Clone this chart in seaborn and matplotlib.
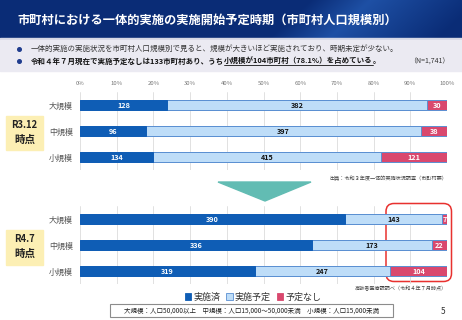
import numpy as np
import pandas as pd
import matplotlib
matplotlib.use("Agg")
import matplotlib.pyplot as plt
import seaborn as sns
from matplotlib.patches import Rectangle, FancyBboxPatch, Polygon, Patch

# ---------------- data ----------------
sizes = ["大規模", "中規模", "小規模"]
r3_done = [128, 96, 134]
r3_plan = [382, 397, 415]
r3_none = [30, 38, 121]
r4_done = [390, 336, 319]
r4_plan = [143, 173, 247]
r4_none = [7, 22, 104]
pct_ticks = ["0%", "10%", "20%", "30%", "40%", "50%", "60%", "70%", "80%", "90%", "100%"]
series_names = ["実施済", "実施予定", "予定なし"]

C_DONE = "#0F5DB5"
C_PLAN = "#BEDDF8"
C_NONE = "#D9486E"
C_EDGE = "#5A8FD2"

sns.set_theme(style="white")
FONT = ["Noto Sans CJK JP", "DejaVu Sans"]
plt.rcParams["font.family"] = FONT

fig = plt.figure(figsize=(4.62, 3.20), dpi=100)
W, H = 462, 320

# background axes in pixel coords
bg = fig.add_axes([0, 0, 1, 1])
bg.set_xlim(0, W)
bg.set_ylim(H, 0)
bg.axis("off")

# header gradient
hh = 38
xx, yy = np.meshgrid(np.arange(W), np.arange(hh))
base = np.array([10, 44, 118]) / 255.0
light = np.array([30, 80, 165]) / 255.0
d = (xx + 1.1 * yy) - 370
t = np.clip(1 - np.abs(d) / 60.0, 0, 1)
t = np.where(d > 0, np.clip(1 - d / 110.0, 0, 1), t)
img = base[None, None, :] * (1 - t[..., None]) + light[None, None, :] * t[..., None]
bg.imshow(img, extent=[0, W, hh, 0], aspect="auto", zorder=0)
bg.add_patch(Rectangle((0, hh), W, 1.5, color="#D5D8E6", zorder=1))
bg.add_patch(Rectangle((0, hh + 1.5), W, 31, color="#EBEAF2", zorder=1))

bg.text(17, 20, "市町村における一体的実施の実施開始予定時期（市町村人口規模別）",
        color="white", fontsize=8.8, fontweight="bold", va="center", ha="left", zorder=2)

# bullets
fs_b = 5.4
bg.plot([19, 19], [49, 61], ls="none", marker="o", ms=2.6, color="#1F3C8E", zorder=2)
bg.text(31, 49, "一体的実施の実施状況を市町村人口規模別で見ると、規模が大きいほど実施されており、時期未定が少ない。",
        fontsize=fs_b, color="#333333", va="center", ha="left", zorder=2)

t1 = bg.text(31, 61, "令和４年７月現在で実施予定なしは133市町村あり、うち",
             fontsize=fs_b, color="#111111", fontweight="bold", va="center", ha="left", zorder=2)
fig.canvas.draw()
r = fig.canvas.get_renderer()
inv = bg.transData.inverted()
e1 = t1.get_window_extent(r)
x1 = inv.transform((e1.x1, e1.y0))[0]
t2 = bg.text(x1, 61, "小規模が104市町村（78.1%）を占めている",
             fontsize=fs_b, color="#111111", fontweight="bold", va="center", ha="left", zorder=2)
e2 = t2.get_window_extent(r)
x2 = inv.transform((e2.x1, e2.y0))[0]
bg.plot([x1, x2], [65.4, 65.4], color="#111111", lw=0.6, zorder=2)
bg.text(x2, 61, "。", fontsize=fs_b, color="#111111", fontweight="bold", va="center", ha="left", zorder=2)
bg.text(450, 62, "（N=1,741）", fontsize=5, color="#333333", va="center", ha="right", zorder=2)

# period boxes
for (y0, y1, lab) in [(116, 150, "R3.12"), (230, 265, "R4.7")]:
    bg.add_patch(Rectangle((6, y0), 37, y1 - y0, color="#FCEFB4", zorder=1))
    bg.text(24.5, y0 + 9.5, lab, fontsize=6.8, fontweight="bold", color="#222222",
            ha="center", va="center", zorder=2)
    bg.text(24.5, y0 + 24, "時点", fontsize=7.6, fontweight="bold", color="#222222",
            ha="center", va="center", zorder=2)

# teal arrow triangle
bg.add_patch(Polygon([[218, 182], [311, 182], [265, 201]], closed=True, color="#62BCB3", zorder=1))

# red rounded frame
bg.add_patch(FancyBboxPatch((386, 203.5), 65.5, 78, boxstyle="round,pad=0,rounding_size=8",
                            fill=False, edgecolor="#E8312F", lw=1.1, zorder=5))

# sources
bg.text(447, 178, "出典：令和３年度一体的実施状況調査（市町村票）", fontsize=3.7, color="#444444",
        ha="right", va="center", zorder=2)
bg.text(447, 289, "高齢者医療課調べ（令和４年７月時点）", fontsize=3.7, color="#444444",
        ha="right", va="center", zorder=2)

# bottom definition box
bg.add_patch(Rectangle((110, 304), 283, 13, facecolor="white", edgecolor="#8C8C8C", lw=0.8, zorder=1))
bg.text(251.5, 310.5, "大規模：人口50,000以上　中規模：人口15,000～50,000未満　小規模：人口15,000未満",
        fontsize=4.7, color="#222222", ha="center", va="center", zorder=2)
bg.text(443, 311, "5", fontsize=6, color="#333333", ha="center", va="center", zorder=2)


def draw_panel(ax, done, plan, none, show_ticks):
    tot = np.array(done) + np.array(plan) + np.array(none)
    p_done = np.array(done) / tot * 100
    p_plan = np.array(plan) / tot * 100
    p_none = np.array(none) / tot * 100
    df = pd.DataFrame({"size": sizes,
                       "c_all": p_done + p_plan + p_none,
                       "c_plan": p_done + p_plan,
                       "c_done": p_done})
    bw = 0.385
    sns.barplot(data=df, y="size", x="c_all", orient="h", color=C_NONE, width=bw,
                edgecolor=C_EDGE, linewidth=0.7, saturation=1, ax=ax)
    sns.barplot(data=df, y="size", x="c_plan", orient="h", color=C_PLAN, width=bw,
                edgecolor=C_EDGE, linewidth=0.7, saturation=1, ax=ax)
    sns.barplot(data=df, y="size", x="c_done", orient="h", color=C_DONE, width=bw,
                edgecolor=C_DONE, linewidth=0.7, saturation=1, ax=ax)
    for i in range(len(sizes)):
        ax.text(p_done[i] / 2, i, str(done[i]), color="white", fontsize=5.2,
                fontweight="bold", ha="center", va="center")
        ax.text(p_done[i] + p_plan[i] / 2, i, str(plan[i]), color="#111111", fontsize=5.2,
                fontweight="bold", ha="center", va="center")
        ax.text(p_done[i] + p_plan[i] + p_none[i] / 2, i, str(none[i]), color="white",
                fontsize=5.2, fontweight="bold", ha="center", va="center")
    ax.set_xlim(0, 100)
    ax.set_ylim(2.5, -0.5)
    ax.set_xlabel("")
    ax.set_ylabel("")
    ax.set_xticks(np.arange(0, 101, 10))
    ax.xaxis.tick_top()
    if show_ticks:
        ax.set_xticklabels(pct_ticks)
    else:
        ax.set_xticklabels([])
    ax.tick_params(axis="x", length=0, pad=4, labelsize=4.3, labelcolor="#777777")
    ax.tick_params(axis="y", length=0, pad=5, labelsize=5.8, labelcolor="#555555")
    ax.grid(axis="x", color="#DCDCDC", lw=0.6)
    ax.set_axisbelow(True)
    for s in ax.spines.values():
        s.set_visible(False)
    ax.patch.set_alpha(0)


ax1 = fig.add_axes([80 / W, 1 - 170 / H, 367 / W, 78 / H])
draw_panel(ax1, r3_done, r3_plan, r3_none, True)
ax2 = fig.add_axes([80 / W, 1 - 284 / H, 367 / W, 78 / H])
draw_panel(ax2, r4_done, r4_plan, r4_none, False)

handles = [Patch(facecolor=C_DONE, edgecolor=C_DONE, lw=0.6),
           Patch(facecolor=C_PLAN, edgecolor=C_EDGE, lw=0.6),
           Patch(facecolor=C_NONE, edgecolor=C_NONE, lw=0.6)]
fig.legend(handles, series_names, loc="center", bbox_to_anchor=(253 / W, 1 - 297 / H), ncol=3,
           frameon=False, fontsize=6.5, handlelength=0.7, handleheight=0.7, handletextpad=0.2,
           columnspacing=0.7, labelcolor="#333333", borderaxespad=0, borderpad=0)

fig.savefig("out.png", dpi=100)
